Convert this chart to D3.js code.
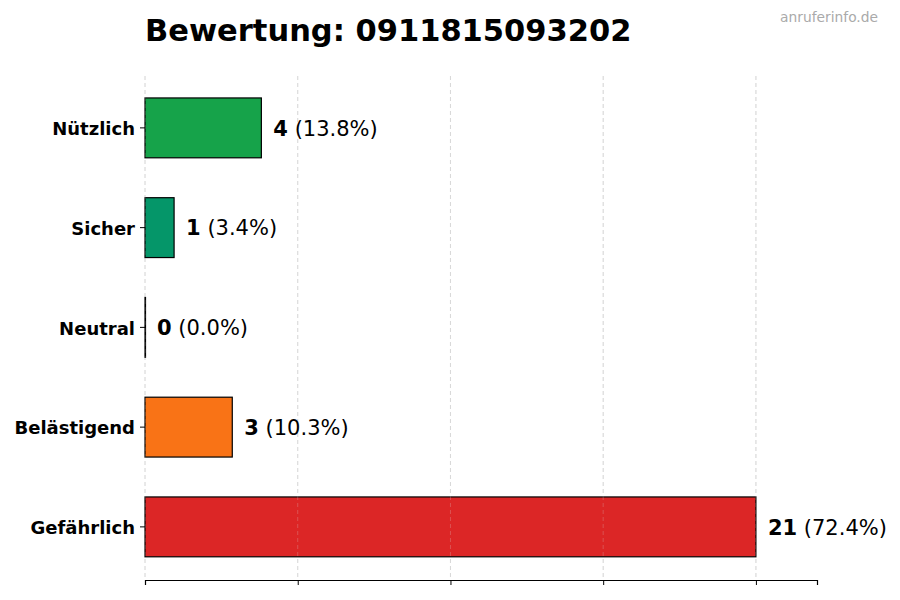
<!DOCTYPE html>
<html>
<head>
<meta charset="utf-8">
<script src="https://cdn.jsdelivr.net/npm/d3@7"></script>
<style>
  body { margin: 0; background: #fff; }
  text { font-family: "DejaVu Sans", sans-serif; }
</style>
</head>
<body>
<div id="chart"></div>
<script>
    const categories = ['Nützlich', 'Sicher', 'Neutral', 'Belästigend', 'Gefährlich'];
    const counts = [4, 1, 0, 3, 21];
    const percents = ['13.8%', '3.4%', '0.0%', '10.3%', '72.4%'];
    const colors = ['#16a34a', '#059669', '#9ca3af', '#f97316', '#dc2626'];
    const title = 'Bewertung: 0911815093202';

    const W = 900, H = 600;
    const margin = { top: 76, right: 83, bottom: 20, left: 145 };
    const width = W - margin.left - margin.right;
    const height = H - margin.top - margin.bottom;

    const svg = d3.select('#chart').append('svg')
        .attr('width', W)
        .attr('height', H);

    const g = svg.append('g')
        .attr('transform', `translate(${margin.left},${margin.top})`);

    const maxVal = d3.max(counts);
    const x = d3.scaleLinear()
        .domain([0, maxVal * 1.1])
        .range([0, width]);

    const y = d3.scaleBand()
        .domain(categories)
        .range([2, height - 3.25])
        .paddingInner(0.4)
        .paddingOuter(0.2);

    const gridTicks = d3.range(5).map(i => maxVal * i / 4);

    // grid (behind)
    g.selectAll('.grid')
        .data(gridTicks)
        .enter()
        .append('line')
            .attr('x1', d => x(d))
            .attr('x2', d => x(d))
            .attr('y1', 0)
            .attr('y2', height)
            .attr('stroke', '#ccc')
            .attr('stroke-dasharray', '4,3')
            .attr('stroke-width', 0.8);

    // bars
    g.selectAll('.bar')
        .data(categories)
        .enter()
        .append('rect')
            .attr('class', 'bar')
            .attr('x', x(0))
            .attr('y', d => y(d))
            .attr('width', (d, i) => Math.max(x(counts[i]) - x(0), 0.5))
            .attr('height', y.bandwidth())
            .attr('fill', (d, i) => colors[i])
            .attr('stroke', '#000')
            .attr('stroke-width', 1.2);

    // grid (faint on top, like reference)
    g.selectAll('.gridTop')
        .data(gridTicks)
        .enter()
        .append('line')
            .attr('x1', d => x(d))
            .attr('x2', d => x(d))
            .attr('y1', 0)
            .attr('y2', height)
            .attr('stroke', '#ddd')
            .attr('stroke-opacity', 0.3)
            .attr('stroke-dasharray', '4,3')
            .attr('stroke-width', 0.8);

    // x axis
    g.append('g')
        .attr('transform', `translate(0,${height})`)
        .call(d3.axisBottom(x).tickValues(gridTicks).tickFormat('').tickSizeOuter(0).tickSize(5))
        .call(a => a.select('.domain').attr('stroke', '#000').attr('stroke-width', 1.2))
        .call(a => a.selectAll('line').attr('stroke', '#000'));

    // y axis
    g.append('g')
        .call(d3.axisLeft(y).tickSize(5).tickPadding(5))
        .call(a => a.select('.domain').remove())
        .call(a => a.selectAll('text')
            .attr('font-size', 18)
            .attr('font-weight', 'bold')
            .attr('fill', '#000')
            .attr('dy', '0.4em')
            .attr('font-family', '"DejaVu Sans", sans-serif'));

    // value labels
    const labels = g.selectAll('.lbl')
        .data(categories)
        .enter()
        .append('text')
            .attr('class', 'lbl')
            .attr('x', (d, i) => x(counts[i]) + 12)
            .attr('y', d => y(d) + y.bandwidth() / 2)
            .attr('dy', '0.37em')
            .attr('font-size', 21)
            .attr('fill', '#000');
    labels.append('tspan').attr('font-weight', 'bold').text((d, i) => counts[i]);
    labels.append('tspan').text((d, i) => ` (${percents[i]})`);

    // title
    svg.append('text')
        .attr('x', margin.left)
        .attr('y', 41)
        .attr('font-size', 30.5)
        .attr('font-weight', 'bold')
        .attr('fill', '#000')
        .text(title);

    svg.append('text')
        .attr('x', 878)
        .attr('y', 22)
        .attr('text-anchor', 'end')
        .attr('font-size', 13.8)
        .attr('fill', '#aaa')
        .text('anruferinfo.de');
</script>
</body>
</html>
